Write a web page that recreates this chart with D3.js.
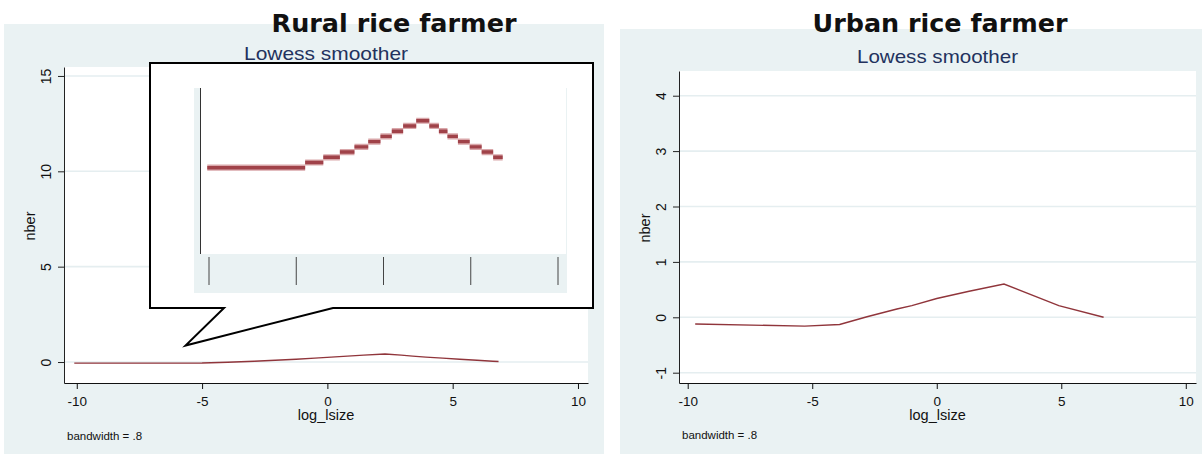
<!DOCTYPE html>
<html>
<head>
<meta charset="utf-8">
<script src="https://cdn.jsdelivr.net/npm/d3@7"></script>
<style>
  html, body { margin: 0; padding: 0; background: #fff; }
  svg { display: block; }
</style>
</head>
<body>
<svg id="chart" width="1202" height="454"></svg>
<script>
// ---- data ----
const xTicks = [-10, -5, 0, 5, 10];
const ruralYTicks = [0, 5, 10, 15];
const urbanYTicks = [-1, 0, 1, 2, 3, 4];

const ruralLogSize = [-10.1, -5.0, -3.98, -2.92, -2.08, -1.25, -0.5, 0.15, 0.8, 1.45, 2.3, 2.95, 3.4, 3.93, 4.6, 5.28, 5.97, 6.6, 6.83];
const ruralNber    = [-0.06, -0.05, -0.01, 0.044, 0.096, 0.147, 0.205, 0.256, 0.307, 0.359, 0.42, 0.359, 0.307, 0.256, 0.205, 0.147, 0.096, 0.044, 0.03];

const urbanLogSize = [-9.7, -5.3, -3.9, -2.8, -1.6, -1.0, 0, 1.3, 2.7, 4.9, 6.7];
const urbanNber    = [-0.12, -0.16, -0.13, 0.01, 0.15, 0.21, 0.34, 0.47, 0.60, 0.21, 0.0];

const panelTitles = ["Rural rice farmer", "Urban rice farmer"];
const subtitle = "Lowess smoother";
const xTitle = "log_lsize";
const yTitle = "nber";
const noteText = "bandwidth = .8";

// ---- styling ----
const PANEL_BG = "#eaf2f3";
const GRID = "#e5eef0";
const LINE = "#90353b";
const NAVY = "#23325e";
const SANS = "'Liberation Sans', Arial, sans-serif";

const svg = d3.select("#chart");

const defs = svg.append("defs");
defs.append("filter").attr("id", "soft")
  .attr("x", "-5%").attr("y", "-50%").attr("width", "110%").attr("height", "200%")
  .append("feGaussianBlur").attr("stdDeviation", 0.6);

const panels = [
  { title: panelTitles[0], xs: ruralLogSize, ys: ruralNber, yTicks: ruralYTicks,
    bg: { x: 4, y: 24, w: 600, h: 430 },
    plot: { l: 64, t: 67, r: 588, b: 383 },
    xDom: [-10.51, 10.4], yDom: [-1.1, 15.47],
    titleX: 394, titleLen: 245, subY: 60, subLen: 164, noteY: 440, xTitleY: 420 },
  { title: panelTitles[1], xs: urbanLogSize, ys: urbanNber, yTicks: urbanYTicks,
    bg: { x: 620, y: 29, w: 582, h: 425 },
    plot: { l: 679, t: 71, r: 1196, b: 383 },
    xDom: [-10.35, 10.41], yDom: [-1.186, 4.446],
    titleX: 940, titleLen: 255, subY: 63, subLen: 161, noteY: 439, xTitleY: 420 }
];

panels.forEach(p => {
  const g = svg.append("g");
  const { l, t, r, b } = p.plot;

  // panel background
  g.append("rect").attr("x", p.bg.x).attr("y", p.bg.y)
    .attr("width", p.bg.w).attr("height", p.bg.h).attr("fill", PANEL_BG);

  // plot region
  g.append("rect").attr("x", l).attr("y", t)
    .attr("width", r - l).attr("height", b - t).attr("fill", "#fff");

  const x = d3.scaleLinear().domain(p.xDom).range([l, r]);
  const y = d3.scaleLinear().domain(p.yDom).range([b, t]);
  p.xScale = x; p.yScale = y;

  // horizontal gridlines
  g.append("g").selectAll("line").data(p.yTicks).join("line")
    .attr("x1", l).attr("x2", r)
    .attr("y1", d => y(d)).attr("y2", d => y(d))
    .attr("stroke", GRID).attr("stroke-width", 1.6);

  // titles
  g.append("text").text(p.title)
    .attr("x", p.titleX).attr("y", 32)
    .attr("text-anchor", "middle")
    .attr("font-family", "'DejaVu Sans', Verdana, sans-serif")
    .attr("font-weight", "bold").attr("font-size", 24).attr("fill", "#111")
    .attr("textLength", p.titleLen).attr("lengthAdjust", "spacingAndGlyphs");

  g.append("text").text(subtitle)
    .attr("x", (l + r) / 2).attr("y", p.subY)
    .attr("text-anchor", "middle")
    .attr("font-family", SANS).attr("font-size", 18.5).attr("fill", NAVY)
    .attr("textLength", p.subLen).attr("lengthAdjust", "spacingAndGlyphs");

  // x axis
  const xAxis = g.append("g").attr("transform", `translate(0,${b})`)
    .call(d3.axisBottom(x).tickValues(xTicks).tickSize(6).tickSizeOuter(0).tickFormat(d3.format("d")));
  xAxis.select(".domain").attr("stroke", "#111");
  xAxis.selectAll(".tick line").attr("stroke", "#111");
  xAxis.selectAll(".tick text")
    .attr("y", 23).attr("dy", 0)
    .attr("font-family", SANS).attr("font-size", 13.5).attr("fill", "#111")
    .text(d => d < 0 ? "-" + Math.abs(d) : d);

  // y axis
  const yAxis = g.append("g").attr("transform", `translate(${l},0)`)
    .call(d3.axisLeft(y).tickValues(p.yTicks).tickSize(6).tickSizeOuter(0));
  yAxis.select(".domain").attr("stroke", "#222");
  yAxis.selectAll(".tick line").attr("stroke", "#222");
  yAxis.selectAll(".tick text")
    .attr("x", 0).attr("dy", 0)
    .attr("text-anchor", "middle")
    .attr("transform", "translate(-13.5,0) rotate(-90)")
    .attr("font-family", SANS).attr("font-size", 14).attr("fill", "#111")
    .text(d => d < 0 ? "-" + Math.abs(d) : d);

  // axis titles
  g.append("text").text(xTitle)
    .attr("x", (l + r) / 2).attr("y", p.xTitleY)
    .attr("text-anchor", "middle")
    .attr("font-family", SANS).attr("font-size", 14.5).attr("fill", "#111");

  g.append("text").text(yTitle)
    .attr("transform", `translate(${l - 29},${(t + b) / 2 + 1}) rotate(-90)`)
    .attr("text-anchor", "middle")
    .attr("font-family", SANS).attr("font-size", 14.5).attr("fill", "#111");

  // note
  g.append("text").text(noteText)
    .attr("x", l + 3).attr("y", p.noteY)
    .attr("font-family", SANS).attr("font-size", 11.5).attr("fill", "#111");

  // lowess curve
  const pts = p.xs.map((v, i) => [v, p.ys[i]]);
  g.append("path").datum(pts)
    .attr("fill", "none").attr("stroke", LINE).attr("stroke-width", 1.4)
    .attr("d", d3.line().x(d => x(d[0])).y(d => y(d[1])));
});

// ---- magnified callout on the rural panel ----
const rural = panels[0];
const co = svg.append("g");

// callout outline with pointer
const box = { l: 150, t: 63, r: 593, b: 308 };
const tip = [185.5, 345.5];
const baseL = 224, baseR = 333;
co.append("path")
  .attr("d", `M${box.l},${box.t}H${box.r}V${box.b}H${baseR}L${tip[0]},${tip[1]}L${baseL},${box.b}H${box.l}Z`)
  .attr("fill", "#fff").attr("stroke", "#000").attr("stroke-width", 2)
  .attr("stroke-linejoin", "miter");

// zoomed plot image
const iv = { l: 194, t: 88, r: 567, b: 293, pl: 201, pr: 566, pb: 254 };
co.append("rect").attr("x", iv.l).attr("y", iv.t)
  .attr("width", iv.r - iv.l).attr("height", iv.b - iv.t).attr("fill", PANEL_BG);
co.append("rect").attr("x", iv.pl).attr("y", iv.t)
  .attr("width", iv.pr - iv.pl).attr("height", iv.pb - iv.t).attr("fill", "#fff");

const ix = d3.scaleLinear().domain([-10, 10]).range([209, 558]);
// one screen row of the main panel becomes a 5.22px band in the callout
const rowPx = 5.22, zeroRow = 162.5;
const rowOf = v => Math.round(rural.yScale(0) - rural.yScale(v));
const iy = v => zeroRow - rowPx * rowOf(v);

// zero gridline
co.append("line").attr("x1", iv.pl).attr("x2", iv.pr)
  .attr("y1", iy(0)).attr("y2", iy(0))
  .attr("stroke", "#e2ebee").attr("stroke-width", 4).attr("filter", "url(#soft)");

// left axis and its zero tick
co.append("line").attr("x1", 200.5).attr("x2", 200.5).attr("y1", iv.t).attr("y2", iv.pb)
  .attr("stroke", "#333").attr("stroke-width", 1);
co.append("line").attr("x1", 196).attr("x2", 200.5).attr("y1", iy(0) - 0.5).attr("y2", iy(0) - 0.5)
  .attr("stroke", "#000").attr("stroke-width", 3.5).attr("filter", "url(#soft)");

// bottom axis (thick, blurred) and long ticks
co.append("line").attr("x1", 200).attr("x2", iv.pr).attr("y1", 255).attr("y2", 255)
  .attr("stroke", "#000").attr("stroke-width", 3.6).attr("filter", "url(#soft)");
co.append("g").selectAll("line").data(xTicks).join("line")
  .attr("x1", d => ix(d)).attr("x2", d => ix(d))
  .attr("y1", 257).attr("y2", 285)
  .attr("stroke", "#444").attr("stroke-width", 1);

// stepped, magnified curve
const segs = ruralLogSize.map((v, i, a) => {
  const x0 = i === 0 ? v : (a[i - 1] + v) / 2;
  const x1 = i === a.length - 1 ? v : (v + a[i + 1]) / 2;
  return `M${ix(x0)},${iy(ruralNber[i])}H${ix(x1)}`;
}).join("");
co.append("path").attr("d", segs)
  .attr("fill", "none").attr("stroke", "#d9a7aa").attr("stroke-width", 6.2)
  .attr("stroke-linecap", "butt").attr("filter", "url(#soft)");
co.append("path").attr("d", segs)
  .attr("fill", "none").attr("stroke", "#a0434a").attr("stroke-width", 3.4)
  .attr("stroke-linecap", "butt").attr("filter", "url(#soft)");
</script>
</body>
</html>
